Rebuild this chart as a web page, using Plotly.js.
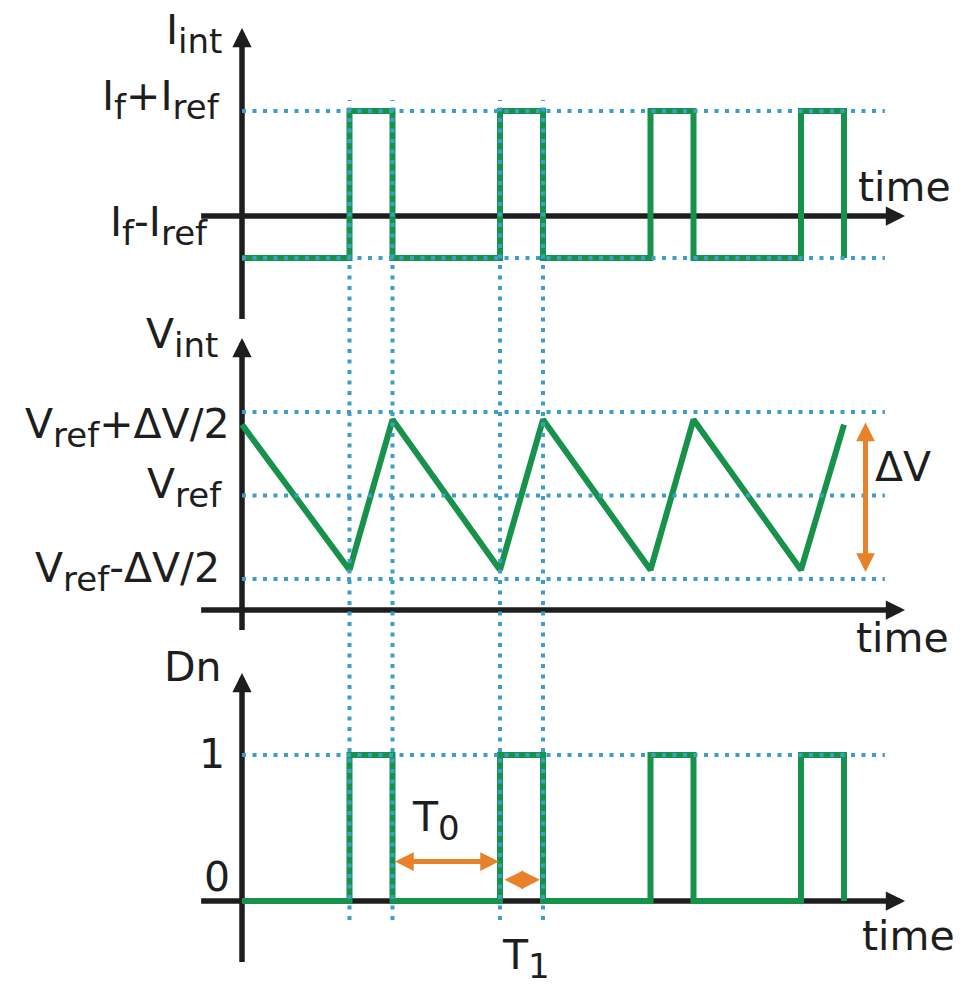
<!DOCTYPE html>
<html>
<head>
<meta charset="utf-8">
<script src="https://cdn.plot.ly/plotly-3.0.1.min.js"></script>
<style>
  html, body { margin: 0; padding: 0; background: #ffffff; }
  #chart { width: 965px; height: 988px; }
</style>
</head>
<body>
<div id="chart"></div>
<script>
// Switching instants of the comparator output (time units)
const riseTimes = [2.5, 6.0, 9.5, 13.0];
const fallTimes = [3.5, 7.0, 10.5, 14.0];

// Integrator input current levels
const If = 0.43;
const Iref = 1.0;

// Integrator output voltage (triangle between the two thresholds)
const Vref = 1.37;
const deltaV = 2.0;
const vintTimes  = [0, 2.5, 3.5, 6.0, 7.0, 9.5, 10.5, 13.0, 14.0];
const vintValues = [2.22, 0.48, 2.28, 0.48, 2.28, 0.48, 2.28, 0.48, 2.22];

// Digital output levels
const dnLow = 0;
const dnHigh = 1;

// ---- page geometry ----
const W = 965, H = 988;
const PX_PER_T = 43, T0_PX = 242;            // time axis origin and scale
const guideEnd = 14.95;                       // right end of dotted level guides
const axisTail = -0.95, axisTip = 15.42;      // horizontal axis extents (time units)

const GREEN = '#17924b';
const ORANGE = '#e8822a';
const DOT = '#3d9fc8';
const DOTDASH = '4px,6.5px';
const INK = '#1e1e1e';
const FONT = 'DejaVu Sans, Liberation Sans, Arial, sans-serif';
const FONT_SIZE = 41;
const SUB_SIZE = 34;

function panel(topPx, botPx, zeroPx, pxPerUnit) {
  return {
    domain: [1 - botPx / H, 1 - topPx / H],
    range: [(zeroPx - botPx) / pxPerUnit, (zeroPx - topPx) / pxPerUnit],
    visible: false, fixedrange: true
  };
}
function toPaperY(py) { return 1 - py / H; }
function toPaperX(px) { return px / W; }

function squareWave(lo, hi) {
  const x = [0], y = [lo];
  riseTimes.forEach((r, i) => {
    const f = fallTimes[i];
    x.push(r, r, f, f);
    y.push(lo, hi, hi, lo);
  });
  return { x, y };
}

const iWave = squareWave(If - Iref, If + Iref);
const dWave = squareWave(dnLow, dnHigh);

const greenLine = { color: GREEN, width: 6 };
const traces = [
  { x: iWave.x, y: iWave.y, xaxis: 'x', yaxis: 'y', mode: 'lines', line: greenLine, hoverinfo: 'skip' },
  { x: vintTimes, y: vintValues, xaxis: 'x', yaxis: 'y2', mode: 'lines', line: greenLine, hoverinfo: 'skip' },
  { x: dWave.x, y: dWave.y, xaxis: 'x', yaxis: 'y3', mode: 'lines', line: greenLine, hoverinfo: 'skip' }
];

const shapes = [];
const annotations = [];

function axisLines(yref, yBottomPx, yTipPx) {
  // horizontal time axis, drawn beneath the traces
  shapes.push({ type: 'line', layer: 'below', xref: 'x', yref: yref,
    x0: axisTail, x1: axisTip - 0.2, y0: 0, y1: 0, line: { color: INK, width: 5.5 } });
  annotations.push({ xref: 'x', yref: yref, x: axisTip, y: 0, ax: -16, ay: 0,
    text: '', showarrow: true, arrowhead: 2, arrowsize: 0.7, arrowwidth: 5.5, arrowcolor: INK });
  // vertical axis at t = 0
  shapes.push({ type: 'line', layer: 'below', xref: 'x', yref: 'paper',
    x0: 0, x1: 0, y0: toPaperY(yBottomPx), y1: toPaperY(yTipPx + 10), line: { color: INK, width: 5.5 } });
  annotations.push({ xref: 'x', yref: 'paper', x: 0, y: toPaperY(yTipPx), ax: 0, ay: 16,
    text: '', showarrow: true, arrowhead: 2, arrowsize: 0.7, arrowwidth: 5.5, arrowcolor: INK });
}
axisLines('y', 319, 28);
axisLines('y2', 630, 338);
axisLines('y3', 962, 673);

// dotted level guides
function hGuide(yref, level) {
  shapes.push({ type: 'line', xref: 'x', yref: yref, x0: 0, x1: guideEnd, y0: level, y1: level,
    line: { color: DOT, width: 4, dash: DOTDASH } });
}
hGuide('y', If + Iref);
hGuide('y', If - Iref);
hGuide('y2', Vref + deltaV / 2);
hGuide('y2', Vref);
hGuide('y2', Vref - deltaV / 2);
hGuide('y3', dnHigh);

// vertical dotted guides through the first two pulses
[riseTimes[0], fallTimes[0], riseTimes[1], fallTimes[1]].forEach(t => {
  shapes.push({ type: 'line', xref: 'x', yref: 'paper', x0: t, x1: t,
    y0: toPaperY(920), y1: toPaperY(100), line: { color: DOT, width: 4, dash: DOTDASH } });
});

// orange dimension arrows
function dimArrow(yref, xa, ya, xb, yb, sa, sb) {
  annotations.push({ xref: 'x', yref: yref, axref: 'x', ayref: yref,
    x: xb, y: yb, ax: xa, ay: ya, text: '', showarrow: true,
    arrowside: 'end+start', arrowhead: 2, startarrowhead: 2,
    arrowsize: 0.75, startarrowsize: 0.75, arrowwidth: 5, arrowcolor: ORANGE,
    standoff: sb, startstandoff: sa });
}
const dvX = 14.5;
dimArrow('y2', dvX, Vref + deltaV / 2, dvX, Vref - deltaV / 2, 9, 7);
dimArrow('y3', fallTimes[0], 0.27, riseTimes[1], 0.27, 1, 1);
dimArrow('y3', riseTimes[1], 0.145, fallTimes[1], 0.145, 3, 3);

// text labels
const sub = s => '<sub><span style="font-size:' + SUB_SIZE + 'px">' + s + '</span></sub>';
function label(text, px, py, xanchor) {
  annotations.push({ xref: 'paper', yref: 'paper', x: toPaperX(px), y: toPaperY(py),
    xanchor: xanchor, yanchor: 'middle', text: text, showarrow: false,
    font: { family: FONT, size: FONT_SIZE, color: INK } });
}
label('I' + sub('int'), 224, 33, 'right');
label('I' + sub('f') + '+I' + sub('ref'), 222, 99, 'right');
label('I' + sub('f') + '-I' + sub('ref'), 210, 225, 'right');
label('V' + sub('int'), 220, 338, 'right');
label('V' + sub('ref') + '+ΔV/2', 232, 427, 'right');
label('V' + sub('ref'), 224, 487, 'right');
label('V' + sub('ref') + '-ΔV/2', 222, 571, 'right');
label('Dn', 224, 667, 'right');
label('1', 227, 754, 'right');
label('0', 232, 877, 'right');
label('ΔV', 873, 467, 'left');
label('T' + sub('0'), 410, 820, 'left');
label('T' + sub('1'), 500, 958, 'left');
label('time', 856, 187, 'left');
label('time', 854, 638, 'left');
label('time', 860, 936, 'left');

const layout = {
  width: W, height: H,
  margin: { l: 0, r: 0, t: 0, b: 0 },
  paper_bgcolor: '#ffffff', plot_bgcolor: '#ffffff',
  showlegend: false,
  xaxis: { domain: [0, 1], range: [-T0_PX / PX_PER_T, (W - T0_PX) / PX_PER_T], visible: false, fixedrange: true },
  yaxis: panel(0, 330, 216, 73.5),
  yaxis2: panel(330, 645, 610, 83.5),
  yaxis3: panel(645, 988, 901, 146),
  shapes: shapes,
  annotations: annotations
};

Plotly.newPlot('chart', traces, layout, { staticPlot: true, displayModeBar: false });
</script>
</body>
</html>
